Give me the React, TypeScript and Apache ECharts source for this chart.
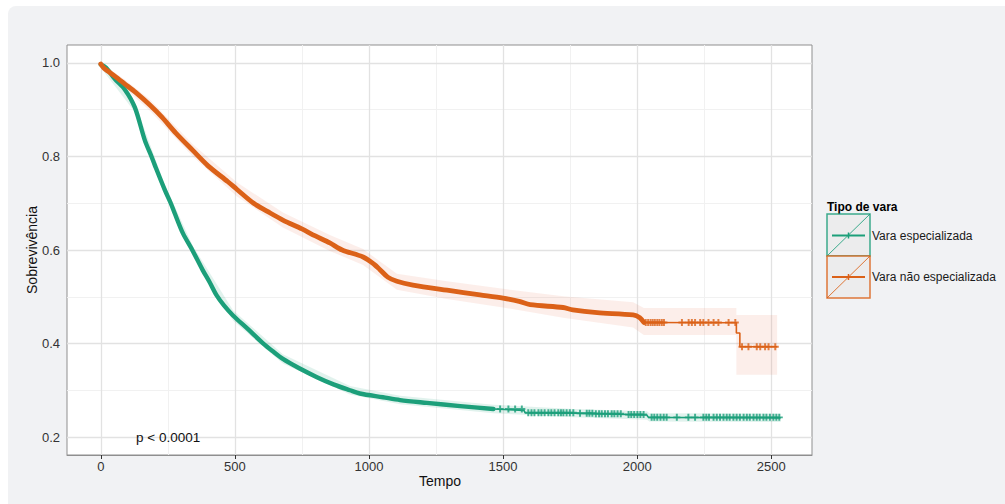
import React, { useEffect, useRef } from "react";
import * as echarts from "echarts";

// ---- data ----
const xTicks = [0, 500, 1000, 1500, 2000, 2500];
const xMinor = [250, 750, 1250, 1750, 2250];
const yTicks = [0.2, 0.4, 0.6, 0.8, 1.0];
const yMinor = [0.3, 0.5, 0.7, 0.9];

const seriesNames = ["Vara especializada", "Vara não especializada"];
const legendTitle = "Tipo de vara";
const pValueText = "p < 0.0001";

// Kaplan-Meier curves [tempo, sobrevivência]
const greenCurve: number[][] = [
  [0, 0.997], [20, 0.99], [52, 0.966], [90, 0.943], [127, 0.905], [164, 0.835],
  [189, 0.8], [201, 0.782], [239, 0.728], [261, 0.7], [276, 0.678], [306, 0.636],
  [343, 0.598], [380, 0.557], [407, 0.53], [432, 0.503], [460, 0.481], [493, 0.46],
  [550, 0.43], [604, 0.401], [640, 0.384], [679, 0.367], [740, 0.347], [806, 0.328],
  [870, 0.312], [929, 0.3], [966, 0.293], [1052, 0.285], [1116, 0.279], [1216, 0.273],
  [1340, 0.266], [1464, 0.26], [1578, 0.257], [1582, 0.252], [1763, 0.251],
  [1840, 0.25], [1961, 0.248], [2036, 0.247], [2042, 0.242], [2535, 0.241],
];
const orangeCurve: number[][] = [
  [0, 0.998], [12, 0.989], [52, 0.972], [90, 0.955], [130, 0.937], [183, 0.91],
  [228, 0.884], [280, 0.85], [343, 0.813], [400, 0.78], [474, 0.746], [507, 0.73],
  [570, 0.7], [623, 0.682], [679, 0.664], [750, 0.645], [800, 0.63], [854, 0.615],
  [900, 0.6], [978, 0.585], [1020, 0.569], [1041, 0.558], [1070, 0.542], [1104, 0.533],
  [1164, 0.525], [1291, 0.514], [1414, 0.504], [1500, 0.497], [1560, 0.49],
  [1601, 0.483], [1724, 0.477], [1760, 0.472], [1851, 0.466], [1985, 0.461],
  [2010, 0.455], [2025, 0.445], [2370, 0.4445], [2370, 0.4225], [2383, 0.4225],
  [2383, 0.393], [2522, 0.393],
];

// confidence bands [tempo, inferior, superior]
const greenBand: number[][] = [
  [0, 0.99, 1.0], [127, 0.895, 0.915], [239, 0.717, 0.739], [343, 0.587, 0.609],
  [493, 0.449, 0.471], [679, 0.357, 0.377], [929, 0.291, 0.309], [1116, 0.27, 0.288],
  [1464, 0.251, 0.269], [1763, 0.242, 0.26], [2037, 0.237, 0.255], [2045, 0.233, 0.251],
  [2535, 0.232, 0.25],
];
const orangeBand: number[][] = [
  [0, 0.99, 1.0], [90, 0.946, 0.964], [183, 0.898, 0.922], [343, 0.8, 0.826],
  [507, 0.715, 0.745], [679, 0.648, 0.68], [854, 0.598, 0.632], [978, 0.568, 0.602],
  [1104, 0.515, 0.549], [1291, 0.495, 0.533], [1500, 0.477, 0.517], [1724, 0.455, 0.501],
  [1985, 0.434, 0.488], [2025, 0.418, 0.476], [2370, 0.418, 0.476], [2370, 0.333, 0.461],
  [2522, 0.333, 0.461],
];

// visible censoring marks (tempo)
const greenCensor = [
  1489, 1520, 1545, 1570, 1594, 1606, 1617, 1632, 1643, 1655, 1669, 1680, 1692, 1706,
  1716, 1725, 1737, 1749, 1762, 1787, 1812, 1822, 1833, 1846, 1858, 1868, 1880, 1891,
  1905, 1915, 1927, 1939, 1968, 1978, 1989, 2001, 2012, 2024, 2054, 2064, 2075,
  2087, 2099, 2110, 2148, 2191, 2216, 2247, 2258, 2268, 2285, 2297, 2309, 2322,
  2334, 2345, 2359, 2371, 2383, 2397, 2409, 2420, 2434, 2446, 2457, 2471, 2482,
  2495, 2508, 2519, 2530,
];
const orangeCensor = [
  2032, 2041, 2050, 2058, 2066, 2075, 2083, 2092, 2100, 2167, 2192, 2204, 2216,
  2235, 2247, 2266, 2285, 2303, 2341, 2366, 2391, 2415, 2446, 2459, 2477, 2490, 2515,
];

// portions drawn as the dense (thick) part of each curve
const greenDenseUntil = 1464;
const orangeDenseUntil = 2025;

const GREEN = "#1c9f7a";
const ORANGE = "#db6118";
const PLUS = "path://M3.6,0H6.4V3.6H10V6.4H6.4V10H3.6V6.4H0V3.6H3.6Z";

function survAt(curve: number[][], t: number): number {
  let v = curve[0][1];
  for (const [ti, si] of curve) {
    if (ti <= t) v = si;
    else break;
  }
  return v;
}

function bandRenderer(band: number[][], fill: string) {
  return (_params: any, api: any) => {
    const up = band.map(([t, , hi]) => api.coord([t, hi]));
    const dn = band.slice().reverse().map(([t, lo]) => api.coord([t, lo]));
    return {
      type: "polygon",
      silent: true,
      shape: { points: up.concat(dn) },
      style: { fill },
    };
  };
}

export default function App() {
  const ref = useRef<HTMLDivElement>(null);

  useEffect(() => {
    if (!ref.current) return;
    const chart = echarts.init(ref.current, null, { renderer: "svg" });

    const gridLines = [
      ...xMinor.map((v) => ({ xAxis: v, lineStyle: { color: "#f1f1f1", width: 1, type: "solid" } })),
      ...yMinor.map((v) => ({ yAxis: v, lineStyle: { color: "#f1f1f1", width: 1, type: "solid" } })),
      ...xTicks.map((v) => ({ xAxis: v, lineStyle: { color: "#e2e2e2", width: 1.3, type: "solid" } })),
      ...yTicks.map((v) => ({ yAxis: v, lineStyle: { color: "#e2e2e2", width: 1.3, type: "solid" } })),
    ];

    const legendY = [235.5, 277];
    const legendColors = [GREEN, ORANGE];
    const legendGraphics: any[] = [
      {
        type: "text",
        x: 827,
        y: 207,
        style: {
          text: legendTitle,
          font: "bold 12px 'Liberation Sans', Arial, sans-serif",
          fill: "#000",
          align: "left",
          verticalAlign: "middle",
        },
      },
    ];
    seriesNames.forEach((name, i) => {
      const top = 214 + i * 42;
      const c = legendColors[i];
      legendGraphics.push(
        {
          type: "rect",
          shape: { x: 827, y: top, width: 43, height: 42 },
          style: { fill: "#ebebeb", stroke: c, lineWidth: 1.5, opacity: 0.85 },
        },
        {
          type: "line",
          shape: { x1: 827, y1: top + 42, x2: 870, y2: top },
          style: { stroke: c, lineWidth: 1, opacity: 0.85 },
        },
        {
          type: "line",
          shape: { x1: 832, y1: legendY[i], x2: 865, y2: legendY[i] },
          style: { stroke: c, lineWidth: 2 },
        },
        {
          type: "line",
          shape: { x1: 848.5, y1: legendY[i] - 3, x2: 848.5, y2: legendY[i] + 3 },
          style: { stroke: c, lineWidth: 1.5 },
        },
        {
          type: "text",
          x: 872,
          y: legendY[i],
          style: {
            text: name,
            font: "12px 'Liberation Sans', Arial, sans-serif",
            fill: "#1a1a1a",
            align: "left",
            verticalAlign: "middle",
          },
        }
      );
    });

    const curveSeries = (name: string, curve: number[][], until: number, color: string, thick: number) => [
      {
        name,
        type: "line",
        data: curve.filter(([t]) => t >= until),
        showSymbol: false,
        symbol: "none",
        lineStyle: { color, width: 1.6 },
        z: 3,
        silent: true,
      },
      {
        name: name + " (denso)",
        type: "line",
        data: curve.filter(([t]) => t <= until),
        showSymbol: false,
        symbol: "none",
        smooth: 0.3,
        lineStyle: { color, width: thick, cap: "round", join: "round" },
        z: 3,
        silent: true,
      },
    ];

    const censorSeries = (name: string, curve: number[][], times: number[], color: string) => ({
      name: name + " (censura)",
      type: "scatter",
      data: times.map((t) => [t, survAt(curve, t)]),
      symbol: PLUS,
      symbolSize: 7,
      itemStyle: { color },
      z: 4,
      silent: true,
    });

    chart.setOption({
      animation: false,
      grid: {
        left: 67,
        top: 45,
        right: 193,
        bottom: 49,
        show: true,
        backgroundColor: "#ffffff",
        borderColor: "#8f8f8f",
        borderWidth: 1,
        containLabel: false,
      },
      xAxis: {
        type: "value",
        min: -126,
        max: 2652,
        axisLine: { show: true, lineStyle: { color: "#8f8f8f", width: 1 } },
        axisTick: {
          show: true,
          length: 4,
          customValues: xTicks,
          lineStyle: { color: "#333", width: 1 },
        },
        axisLabel: {
          customValues: xTicks,
          formatter: (v: number) => String(v),
          margin: 5,
          color: "#333",
          fontSize: 13,
          fontFamily: "'Liberation Sans', Arial, sans-serif",
        },
        splitLine: { show: false },
      },
      yAxis: {
        type: "value",
        min: 0.1615,
        max: 1.0385,
        axisLine: { show: true, lineStyle: { color: "#8f8f8f", width: 1 } },
        axisTick: {
          show: true,
          length: 4,
          customValues: yTicks,
          lineStyle: { color: "#333", width: 1 },
        },
        axisLabel: {
          customValues: yTicks,
          formatter: (v: number) => v.toFixed(1),
          margin: 7,
          color: "#333",
          fontSize: 13,
          fontFamily: "'Liberation Sans', Arial, sans-serif",
        },
        splitLine: { show: false },
      },
      graphic: [
        {
          type: "text",
          x: 440,
          y: 481,
          style: {
            text: "Tempo",
            font: "14px 'Liberation Sans', Arial, sans-serif",
            fill: "#111",
            align: "center",
            verticalAlign: "middle",
          },
        },
        {
          type: "text",
          x: 32,
          y: 250,
          rotation: Math.PI / 2,
          style: {
            text: "Sobrevivência",
            font: "14px 'Liberation Sans', Arial, sans-serif",
            fill: "#111",
            align: "center",
            verticalAlign: "middle",
          },
        },
        {
          type: "text",
          x: 136,
          y: 437,
          z: 10,
          style: {
            text: pValueText,
            font: "13.5px 'Liberation Sans', Arial, sans-serif",
            fill: "#111",
            align: "left",
            verticalAlign: "middle",
          },
        },
        ...legendGraphics,
      ],
      series: [
        {
          name: "grade",
          type: "line",
          data: [[0, 0.2]],
          showSymbol: false,
          symbol: "none",
          lineStyle: { opacity: 0 },
          silent: true,
          z: 1,
          markLine: {
            silent: true,
            symbol: "none",
            label: { show: false },
            z: 1,
            animation: false,
            data: gridLines,
          },
        },
        {
          name: "IC " + seriesNames[0],
          type: "custom",
          data: [[0, 0.5]],
          renderItem: bandRenderer(greenBand, "rgba(27,158,119,0.13)"),
          z: 2,
          silent: true,
        },
        {
          name: "IC " + seriesNames[1],
          type: "custom",
          data: [[0, 0.5]],
          renderItem: bandRenderer(orangeBand, "rgba(230,100,60,0.11)"),
          z: 2,
          silent: true,
        },
        ...curveSeries(seriesNames[0], greenCurve, greenDenseUntil, GREEN, 4.4),
        ...curveSeries(seriesNames[1], orangeCurve, orangeDenseUntil, ORANGE, 4.8),
        censorSeries(seriesNames[0], greenCurve, greenCensor, GREEN),
        censorSeries(seriesNames[1], orangeCurve, orangeCensor, ORANGE),
      ],
    });

    return () => chart.dispose();
  }, []);

  return (
    <div style={{ position: "fixed", left: 0, top: 0, width: 1005, height: 504, overflow: "hidden", background: "#ffffff" }}>
      <div
        style={{
          position: "absolute",
          left: 8,
          top: 6,
          width: 1010,
          height: 510,
          background: "#f1f2f4",
          borderRadius: 8,
        }}
      />
      <div ref={ref} style={{ position: "absolute", left: 0, top: 0, width: 1005, height: 504 }} />
    </div>
  );
}
